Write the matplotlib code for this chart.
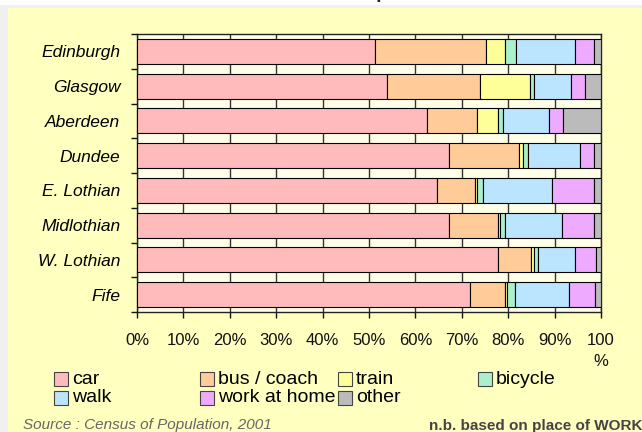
import matplotlib
matplotlib.use("Agg")
import matplotlib.pyplot as plt
from matplotlib.patches import Rectangle
import numpy as np

plt.rcParams["font.family"] = ["Liberation Sans", "DejaVu Sans"]

# data (percent of commuters)
areas = ["Edinburgh", "Glasgow", "Aberdeen", "Dundee",
         "E. Lothian", "Midlothian", "W. Lothian", "Fife"]
modes = ["car", "bus / coach", "train", "bicycle", "walk", "work at home", "other"]
car     = [51.2, 53.8, 62.6, 67.3, 64.6, 67.3, 77.9, 71.7]
bus     = [24.0, 20.1, 10.6, 15.0, 8.3, 10.6, 7.1, 7.7]
train   = [4.2, 10.8, 4.5, 0.9, 0.3, 0.3, 0.6, 0.4]
bicycle = [2.3, 0.9, 1.1, 1.1, 1.4, 1.1, 0.9, 1.7]
walk    = [12.7, 8.0, 10.1, 11.2, 14.9, 12.3, 8.0, 11.5]
home    = [4.1, 2.9, 2.9, 2.9, 9.0, 6.8, 4.4, 5.6]
other   = [1.5, 3.5, 8.2, 1.6, 1.5, 1.6, 1.1, 1.4]
x_ticks = [0, 10, 20, 30, 40, 50, 60, 70, 80, 90, 100]
x_labels = ["0%", "10%", "20%", "30%", "40%", "50%", "60%", "70%", "80%", "90%", "100\n%"]

series = [car, bus, train, bicycle, walk, home, other]
colors = ["#FFBBBB", "#FFCC99", "#FFFF99", "#AAF0CC", "#BBE4FF", "#EEAAFF", "#BBBBBB"]

W, H = 642, 432
_OUTER = "#FFFFC0"
_PLOT = "#FFFFE8"


def px(x, y):
    # pixel (from top-left) -> figure fraction
    return x / W, 1 - y / H


fig = plt.figure(figsize=(W / 100, H / 100), dpi=100)
fig.patch.set_facecolor("#F0F0F0")
fig.patches.append(Rectangle(px(0, 5), 1, 5 / H, transform=fig.transFigure,
                             facecolor="white", edgecolor="none", zorder=-10))
fig.patches.append(Rectangle((8 / W, 0), 1, 1 - 8 / H, transform=fig.transFigure,
                             facecolor=_OUTER, edgecolor="none", zorder=-10))

# title is cropped off the top in the original
fig.text(280 / W, 1 - 2 / H, "Mode of Travel to Work : Comparisons",
         ha="center", va="bottom", fontsize=14, fontweight="bold", color="#222222")

l, t = px(137, 34)
r, b = px(601, 312)
ax = fig.add_axes([l, b, r - l, t - b])
ax.set_zorder(1)
ax.set_facecolor(_PLOT)

y = np.arange(len(areas))
left = np.zeros(len(areas))
for vals, c, name in zip(series, colors, modes):
    ax.barh(y, vals, left=left, height=0.72, color=c, edgecolor="black",
            linewidth=0.8, label=name, zorder=3)
    left += np.array(vals)

ax.set_xlim(0, 100)
ax.set_ylim(len(areas) - 0.5, -0.5)
ax.set_xticks(x_ticks)
ax.set_xticklabels(x_labels, fontsize=12, linespacing=1.55)
ax.xaxis.grid(True, color="#333333", linewidth=1, zorder=1)
ax.set_axisbelow(True)
ax.tick_params(axis="x", direction="out", length=4, width=1, pad=11, colors="#111111")

ax.set_yticks(y)
ax.set_yticklabels(areas, fontsize=12.5, fontstyle="italic")
ax.set_yticks(np.arange(-0.5, len(areas), 1), minor=True)
ax.tick_params(axis="y", which="major", length=0, pad=12)
ax.tick_params(axis="y", which="minor", direction="out", length=4, width=1, color="#111111")
for sp in ax.spines.values():
    sp.set_color("#222222")
    sp.set_linewidth(1)

# legend (Excel style, row-major, fixed columns)
col_x = [54, 200, 338, 478]
row_y = [379, 398]
for i, (name, c) in enumerate(zip(modes, colors)):
    rx = col_x[i % 4]
    ry = row_y[i // 4]
    x0, y0 = px(rx, ry + 7)
    fig.patches.append(Rectangle((x0, y0), 14 / W, 14 / H, transform=fig.transFigure,
                                 facecolor=c, edgecolor="#444444", linewidth=0.8, zorder=2))
    tx, ty = px(rx + 18, ry)
    fig.text(tx, ty, name, ha="left", va="center", fontsize=14, color="black")

sx, sy = px(23, 425)
fig.text(sx, sy, "Source : Census of Population, 2001", ha="left", va="center",
         fontsize=11, fontstyle="italic", color="#666666")
nx, ny = px(429, 426)
fig.text(nx, ny, "n.b. based on place of WORK", ha="left", va="center",
         fontsize=11, fontweight="bold", color="#444444")

fig.savefig("out.png", dpi=100, facecolor=fig.get_facecolor())
